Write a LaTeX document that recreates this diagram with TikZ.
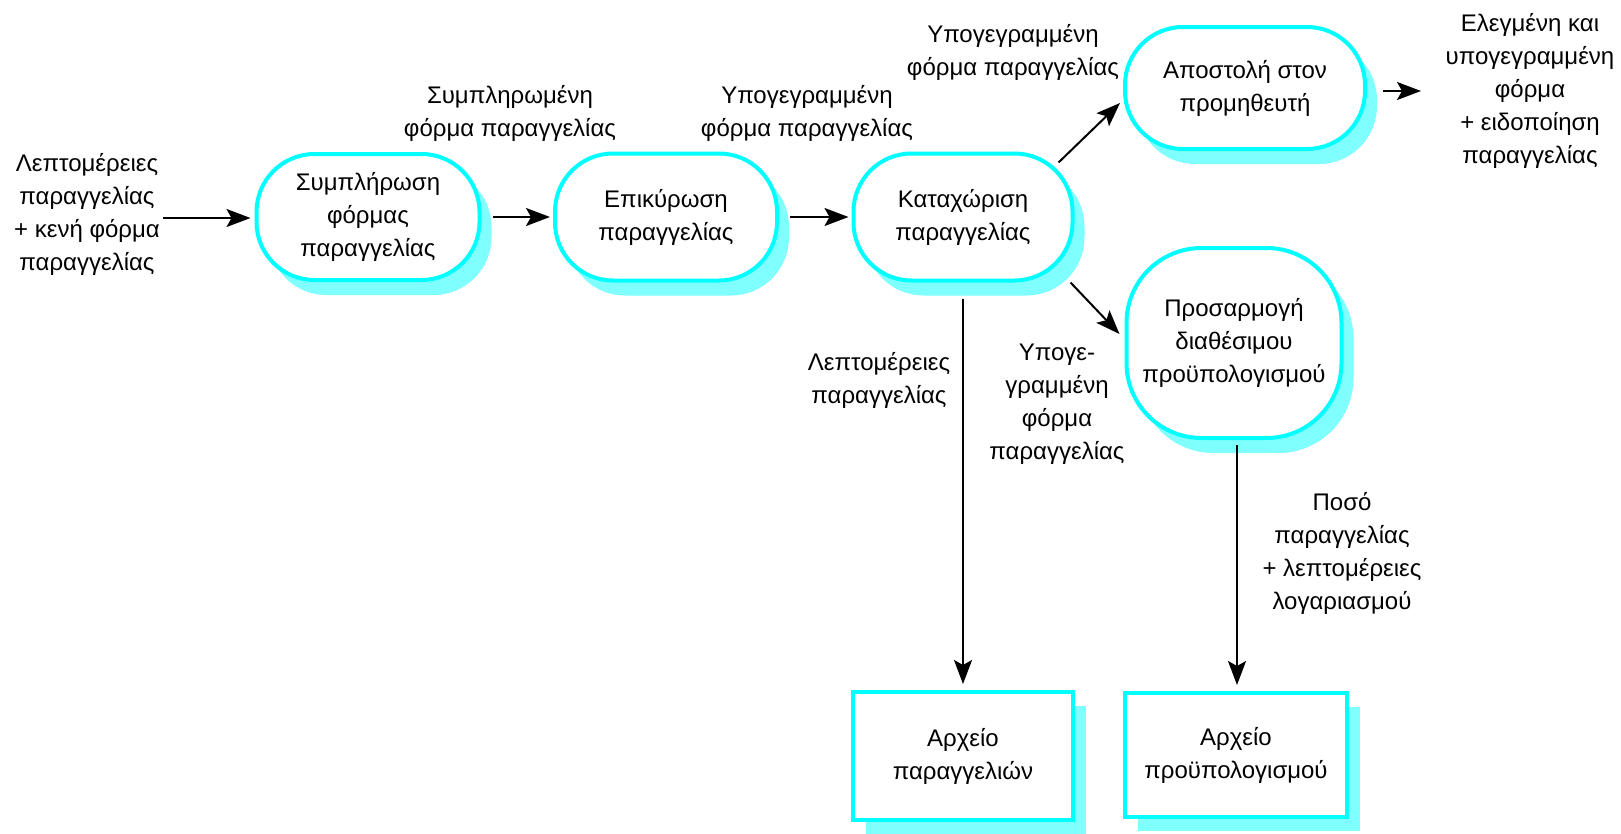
\documentclass[tikz,border=0pt]{standalone}
\usepackage{fontspec}
\setmainfont{Liberation Sans}
\usetikzlibrary{arrows.meta,shadows,calc}
\definecolor{edgecyan}{HTML}{00FFFF}
\definecolor{shadecyan}{HTML}{80FFFF}
\begin{document}
\begin{tikzpicture}[x=1pt,y=-1pt,
  every node/.style={font=\fontsize{24}{33}\selectfont, align=center},
  procbox/.style={draw=edgecyan, line width=4pt, fill=white, rounded corners=58pt,
    inner sep=0pt,
    drop shadow={shadow xshift=12pt, shadow yshift=-15pt, fill=shadecyan, opacity=1}},
  storebox/.style={draw=edgecyan, line width=4pt, fill=white, inner sep=0pt,
    drop shadow={shadow xshift=13pt, shadow yshift=-14pt, fill=shadecyan, opacity=1}},
  flow/.style={line width=2pt, -{Stealth[length=24pt,width=18pt,inset=5pt]}},
  lbl/.style={inner sep=0pt}]
\useasboundingbox (0,0) rectangle (1621,833);

% processes
\node[procbox, minimum width=223pt, minimum height=126pt] (n1) at (368,217)
  {Συμπλήρωση\\φόρμας\\παραγγελίας};
\node[procbox, minimum width=222pt, minimum height=127pt] (n2) at (666,217)
  {Επικύρωση\\παραγγελίας};
\node[procbox, minimum width=219pt, minimum height=127pt] (n3) at (963,217)
  {Καταχώριση\\παραγγελίας};
\node[procbox, minimum width=240pt, minimum height=122pt] (n4) at (1245,88)
  {Αποστολή στον\\προμηθευτή};
\node[procbox, rounded corners=75pt, minimum width=215pt, minimum height=190pt] (n5) at (1234,343)
  {Προσαρμογή\\διαθέσιμου\\προϋπολογισμού};

% data stores
\node[storebox, minimum width=220pt, minimum height=128pt] (r1) at (963,756)
  {Αρχείο\\παραγγελιών};
\node[storebox, minimum width=222pt, minimum height=124pt] (r2) at (1236,755)
  {Αρχείο\\προϋπολογισμού};

% free ends
\coordinate (src) at (163,218);
\coordinate (out) at (1421,91);

% connectors
\draw[flow, shorten >=4pt] (src) -- (n1.west |- src);
\draw[flow, shorten <=11pt, shorten >=3pt] (n1) -- (n2);
\draw[flow, shorten <=11pt, shorten >=3pt] (n2) -- (n3);
\draw[flow] ($(n3.north east)+(-16,11)$) -- ($(n4.west)+(-3,15)$);
\draw[flow] ($(n3.south east)+(-4,0)$) -- ($(n5.west)+(-5,-9)$);
\draw[flow] ($(n3.south)+(0,16)$) -- ($(r1.north)+(0,-6)$);
\draw[flow] ($(n5.south)+(3,5)$) -- ($(r2.north)+(1,-6)$);
\draw[flow, shorten <=16pt] (n4.east |- out) -- (out);

% labels
\node[lbl] at (87,214) {Λεπτομέρειες\\παραγγελίας\\+ κενή φόρμα\\παραγγελίας};
\node[lbl] at (510,113) {Συμπληρωμένη\\φόρμα παραγγελίας};
\node[lbl] at (807,113) {Υπογεγραμμένη\\φόρμα παραγγελίας};
\node[lbl] at (1013,52) {Υπογεγραμμένη\\φόρμα παραγγελίας};
\node[lbl] at (1530,91) {Ελεγμένη και\\υπογεγραμμένη\\φόρμα\\+ ειδοποίηση\\παραγγελίας};
\node[lbl] at (879,380) {Λεπτομέρειες\\παραγγελίας};
\node[lbl] at (1057,404) {Υπογε-\\γραμμένη\\φόρμα\\παραγγελίας};
\node[lbl] at (1342,553) {Ποσό\\παραγγελίας\\+ λεπτομέρειες\\λογαριασμού};
\end{tikzpicture}
\end{document}
